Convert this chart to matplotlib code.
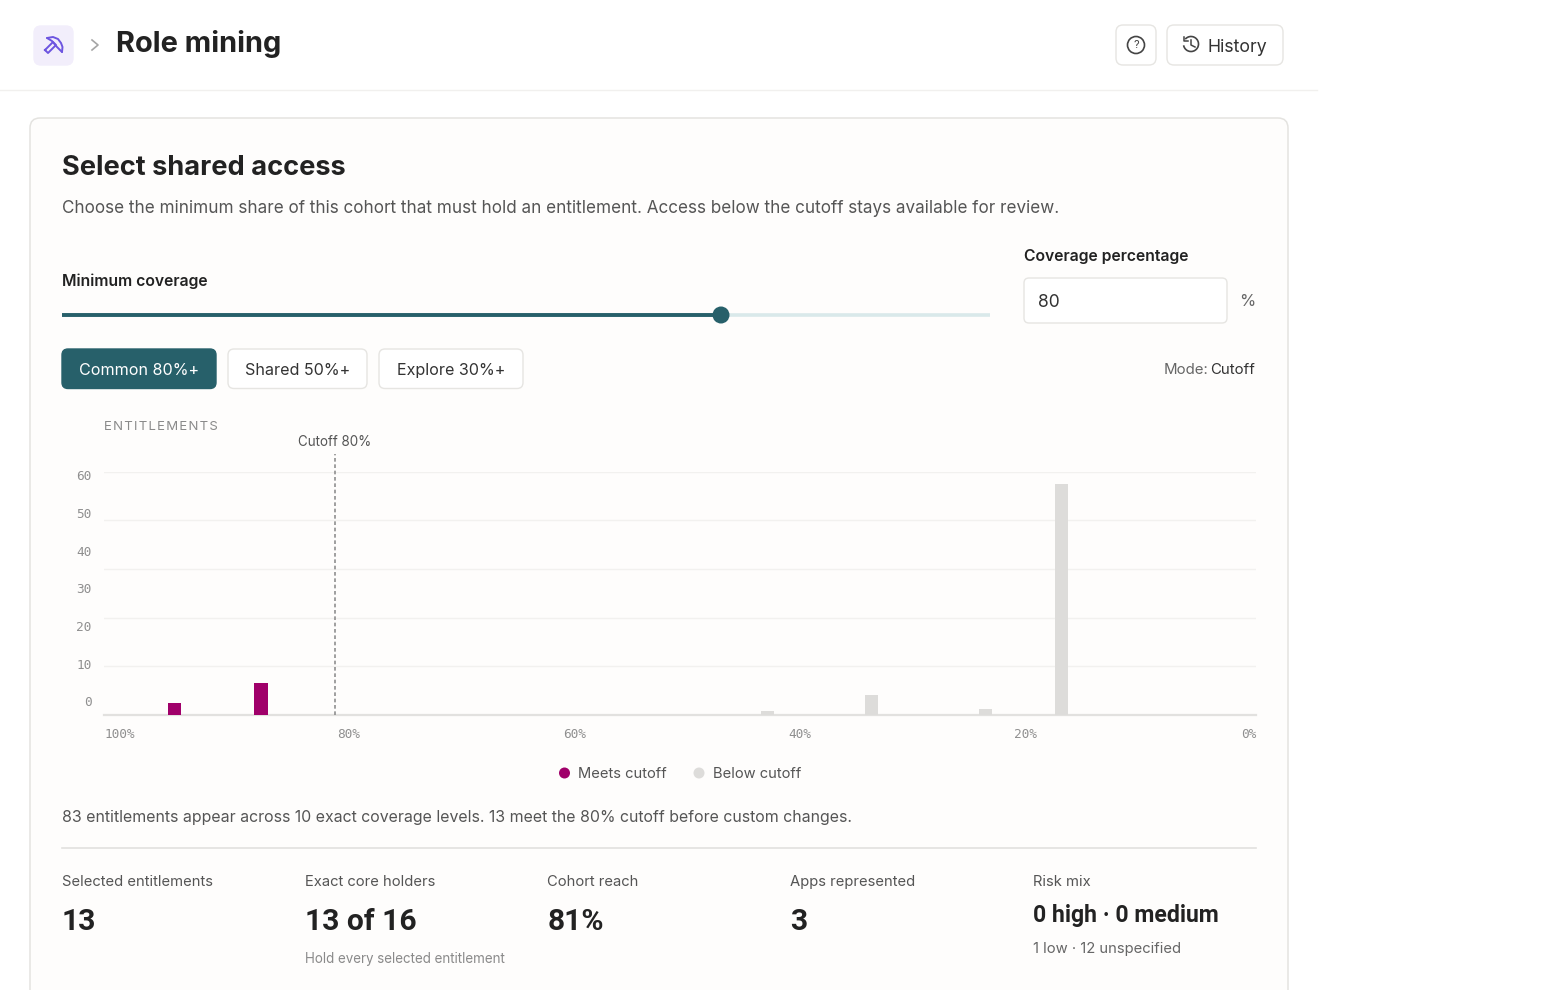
import matplotlib
matplotlib.use('Agg')
from matplotlib import pyplot as plt
from matplotlib.patches import FancyBboxPatch, Circle, Arc

plt.rcParams['font.family'] = ['Inter', 'DejaVu Sans']

# chart values
coverage = [93.9, 86.4, 42.4, 33.4, 23.5, 16.9]
entitlements = [3, 8, 1, 5, 1.6, 57]
cutoff = 80
grid_values = [0, 12, 24, 36, 48, 60]
y_labels = [0, 10, 20, 30, 40, 50, 60]
x_labels = ['100%', '80%', '60%', '40%', '20%', '0%']
x_label_pos = [100, 78.8, 59.2, 39.6, 20, 0]
stat_titles = ['Selected entitlements', 'Exact core holders', 'Cohort reach', 'Apps represented', 'Risk mix']
stat_values = ['13', '13 of 16', '81%', '3', '0 high · 0 medium']
presets = ['Common 80%+', 'Shared 50%+', 'Explore 30%+']

W, H = 1568, 990
PURPLE = '#a0006a'
GRAY = '#dddcda'
TEAL = '#27606a'
INK = '#222222'
BORDER = '#e6e5e2'
CARD = '#fefdfc'

fig = plt.figure(figsize=(W / 100, H / 100), dpi=100, facecolor='white')
ui = fig.add_axes([0, 0, 1, 1])
ui.set_xlim(0, W)
ui.set_ylim(H, 0)
ui.axis('off')


def box(x, y, w, h, r=6, fc='white', ec=BORDER, lw=1.0, z=1):
    ui.add_patch(FancyBboxPatch((x + r, y + r), w - 2 * r, h - 2 * r, boxstyle=f'round,pad={r},rounding_size={r}',
                                fc=fc, ec=ec, lw=lw, zorder=z))


def label(x, y, s, size=12.0, color=INK, ha='left', weight='normal', **kw):
    return ui.text(x, y, s, fontsize=size * 0.72, color=color, ha=ha, va='center', weight=weight, zorder=5, **kw)


# header
ui.plot([0, 1317], [90, 90], color='#f1f0ee', lw=1)
box(34, 26, 39, 39, r=7, fc='#f2eefb', ec='#f2eefb')
ui.plot([47, 53, 58, 61, 62.5, 62], [38, 37, 39, 43, 47, 52], color='#6d55e0', lw=1.4, solid_capstyle='round')
ui.plot([47, 52, 57, 62], [38, 41, 47, 52], color='#6d55e0', lw=1.4, solid_capstyle='round')
ui.plot([45, 53, 56, 48, 45], [50, 42, 45, 53, 50], color='#6d55e0', lw=1.4, solid_joinstyle='round')
ui.plot([92, 98, 92], [40, 45, 50], color='#a5a5a5', lw=1.2)
label(116, 44, 'Role mining', size=29, weight='bold')
box(1116, 25, 40, 40, r=7)
ui.add_patch(Circle((1136, 45), 8.5, fc='none', ec='#444444', lw=1.2, zorder=5))
label(1136, 45, '?', size=11, color='#444444', ha='center')
box(1167, 25, 116, 40, r=7)
ui.add_patch(Arc((1191, 44), 15, 15, theta1=-140, theta2=170, ec='#444444', lw=1.2, zorder=5))
ui.plot([1191, 1191, 1195], [40, 45, 47], color='#444444', lw=1.1, zorder=5)
ui.plot([1184, 1184, 1188], [37, 41, 41], color='#444444', lw=1.1, zorder=5)
label(1208, 47, 'History', size=17.7, color='#333333')

# card
box(30, 118, 1258, 900, r=10, fc=CARD, ec='#e4e3e0', lw=1.1, z=0)
label(62, 168, 'Select shared access', size=27.2, weight='bold')
label(62, 208.5, 'Choose the minimum share of this cohort that must hold an entitlement. '
      'Access below the cutoff stays available for review.', size=17.1, color='#555555')

# slider
label(62, 281, 'Minimum coverage', size=15.75, weight='semibold')
ui.plot([62, 990], [315, 315], color='#d9e9ea', lw=2.6, solid_capstyle='butt')
ui.plot([62, 721], [315, 315], color=TEAL, lw=2.8, solid_capstyle='butt')
ui.add_patch(Circle((721, 315), 8.5, fc=TEAL, ec='none', zorder=4))
label(1024, 256.5, 'Coverage percentage', size=15.75, weight='semibold')
box(1024, 278, 203, 45, r=5)
label(1038, 302.5, '80', size=17.5, color='#333333')
label(1239, 302, '%', size=16.5, color='#666666')

# preset buttons
preset_boxes = [(62, 154), (228, 139), (379, 144)]
for i, (name, (bx, bw)) in enumerate(zip(presets, preset_boxes)):
    selected = i == 0
    box(bx, 349, bw, 39.5, r=6, fc=TEAL if selected else 'white', ec=TEAL if selected else BORDER)
    label(bx + bw / 2, 370.6, name, size=16.1, color='white' if selected else '#333333', ha='center')
label(1255, 369.6, 'Cutoff', size=15, color='#333333', ha='right')
label(1208, 369.6, 'Mode:', size=15, color='#666666', ha='right')

# chart
left, right, top, base = 104.2, 1256, 471.5, 715
ax = fig.add_axes([left / W, 1 - base / H, (right - left) / W, (base - top) / H])
ax.patch.set_alpha(0)
ax.set_xlim(100, 0)
ax.set_ylim(0, 60)
for side in ['top', 'right', 'left']:
    ax.spines[side].set_visible(False)
ax.spines['bottom'].set_color('#e2e1df')
ax.spines['bottom'].set_linewidth(1.6)
ax.set_yticks(grid_values)
ax.set_yticklabels([])
ax.tick_params(left=False, bottom=False, labelbottom=False)
ax.grid(axis='y', color='#f2f1ef', lw=1)
ax.set_axisbelow(True)
colors = [PURPLE if c >= cutoff else GRAY for c in coverage]
ax.bar(coverage, entitlements, width=1.17, color=colors, zorder=3)
ax.plot([cutoff, cutoff], [0, 64.2], color='#8f8f8f', lw=1.2, ls=(0, (2.2, 1.6)), clip_on=False, zorder=4)
ax.text(cutoff, 67.3, f'Cutoff {cutoff}%', fontsize=9.65, color='#555555', ha='center', va='center')

# y labels sit on their own evenly spaced scale, not on the gridlines
lab_ax = fig.add_axes([left / W, 1 - 701.5 / H, 0.001, 226 / H])
lab_ax.patch.set_alpha(0)
lab_ax.set_ylim(0, 60)
lab_ax.set_xticks([])
lab_ax.set_yticks(y_labels)
lab_ax.set_yticklabels(y_labels, family='DejaVu Sans Mono', fontsize=9.2, color='#8f8f8f')
lab_ax.tick_params(left=False, pad=5.5)
for s in lab_ax.spines.values():
    s.set_visible(False)

for i, (name, pos) in enumerate(zip(x_labels, x_label_pos)):
    ha = 'left' if i == 0 else 'right' if i == len(x_labels) - 1 else 'center'
    ax.text(pos, -4.7, name, family='DejaVu Sans Mono', fontsize=9.2, color='#8f8f8f', ha=ha, va='center')
label(104, 427, '\u200a'.join('ENTITLEMENTS'), size=13.2, color='#8a8a8a')

# legend
ui.add_patch(Circle((564.5, 773), 5.5, fc=PURPLE, ec='none', zorder=4))
label(578, 773.5, 'Meets cutoff', size=14.7, color='#555555')
ui.add_patch(Circle((699, 773), 5.5, fc=GRAY, ec='none', zorder=4))
label(713, 773.5, 'Below cutoff', size=14.7, color='#555555')

label(62, 817.4, '83 entitlements appear across 10 exact coverage levels. 13 meet the 80% cutoff before custom changes.',
      size=15.9, color='#555555')
ui.plot([62, 1256], [848, 848], color='#e2e1df', lw=1.2)

# stats
stat_x = [62, 305, 547.5, 790, 1033]
for x, name, val in zip(stat_x, stat_titles, stat_values):
    label(x, 882, name, size=14.8, color='#555555')
    long_val = len(val) > 10
    label(x, 915.5 if long_val else 922, val, size=23 if long_val else 30, weight='bold', family='Roboto')
label(305, 959, 'Hold every selected entitlement', size=13.4, color='#8a8a8a')
label(1033, 949, '1 low · 12 unspecified', size=14.8, color='#666666')

plt.savefig('out.png', dpi=100)
